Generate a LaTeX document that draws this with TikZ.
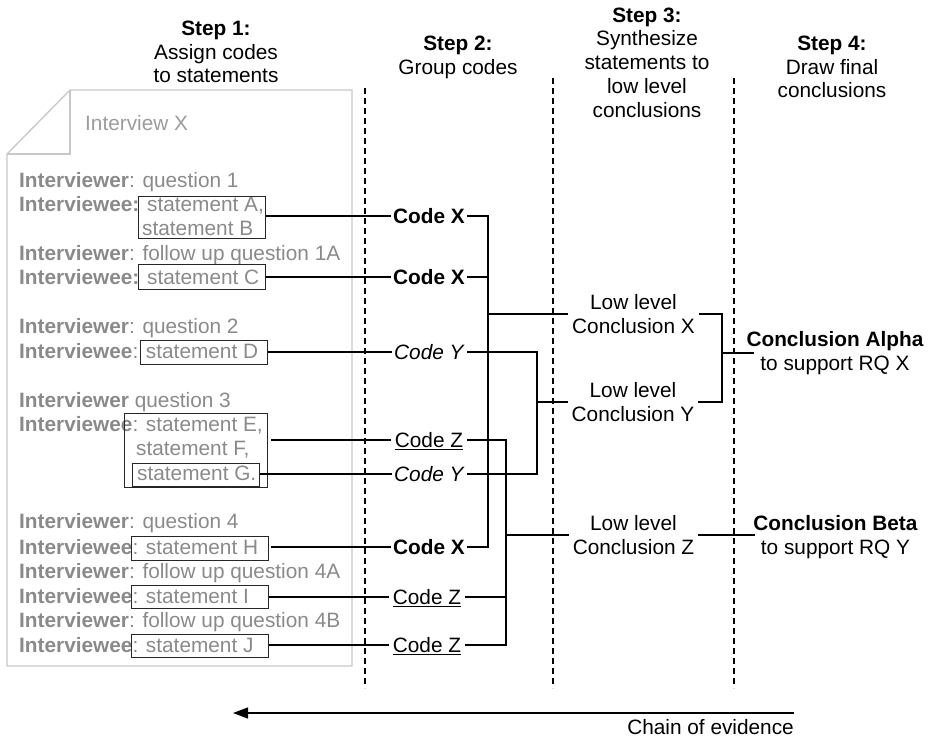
\documentclass[tikz,border=0pt]{standalone}
\usepackage{fontspec}
\setmainfont{Liberation Sans}
\usetikzlibrary{arrows.meta}
\definecolor{txtgray}{HTML}{8A8A8A}
\definecolor{lightgray}{HTML}{9C9C9C}
\definecolor{papergray}{HTML}{C8C8C8}
\begin{document}
\begin{tikzpicture}[x=1pt,y=-1pt,
  every node/.style={font=\fontsize{20.8}{24.3}\selectfont, inner sep=0pt},
  iv/.style={anchor=base west, text=txtgray},
  sbox/.style={draw=black!85, line width=1pt, anchor=north west},
  code/.style={inner xsep=2pt, text height=14.9pt, text depth=0pt},
  codez/.style={inner xsep=4pt, text height=14.9pt, text depth=0pt},
  conc/.style={align=center, inner xsep=4pt},
  hdr/.style={align=center, anchor=north, font=\fontsize{20.8}{23.8}\selectfont},
  conn/.style={line width=1.2pt, black},
  divider/.style={line width=1.1pt, dash pattern=on 6pt off 4pt},
  paper/.style={draw=papergray, line width=1.3pt, line join=miter}
]
\useasboundingbox (0,0) rectangle (931,737);

% headers
\node[hdr] (h1) at (216,20.6) {\textbf{Step 1:}\\Assign codes\\to statements};
\node[hdr] (h2) at (458,35.6) {\textbf{Step 2:}\\Group codes};
\node[hdr] (h3) at (647,7.3) {\textbf{Step 3:}\\Synthesize\\statements to\\low level\\conclusions};
\node[hdr] (h4) at (832,35.6) {\textbf{Step 4:}\\Draw final\\conclusions};

% dividers
\draw[divider] (365,88) -- (365,688);
\draw[divider] (553,78) -- (553,688);
\draw[divider] (734,78) -- (734,688);

% paper
\draw[paper] (70,90) -- (352,90) -- (352,666) -- (7,666) -- (7,154) -- cycle;
\draw[paper] (70,90) -- (70,154) -- (7,154);
\node[anchor=base west, text=lightgray] (ivx) at (85,130) {Interview X};

% interview text
\node[iv] (r1) at (19,187.3) {\textbf{Interviewer}: question 1};
\node[iv] (r2) at (19,211.3) {\textbf{Interviewee:} statement A,};
\node[iv] (r3) at (142,235.3) {statement B};
\node[iv] (r4) at (19,260.3) {\textbf{Interviewer}: follow up question 1A};
\node[iv] (r5) at (19,284.3) {\textbf{Interviewee:} statement C};
\node[iv] (r6) at (19,333.3) {\textbf{Interviewer}: question 2};
\node[iv] (r7) at (19,358.3) {\textbf{Interviewee}: statement D};
\node[iv] (r8) at (19,407.3) {\textbf{Interviewer} question 3};
\node[iv] (r9) at (19,431.3) {\textbf{Interviewee}: statement E,};
\node[iv] (r10) at (136,455.3) {statement F,};
\node[iv] (r11) at (137,480.3) {statement G.};
\node[iv] (r12) at (19,528.3) {\textbf{Interviewer}: question 4};
\node[iv] (r13) at (19,554.3) {\textbf{Interviewee}: statement H};
\node[iv] (r14) at (19,578.3) {\textbf{Interviewer}: follow up question 4A};
\node[iv] (r15) at (19,603.3) {\textbf{Interviewee}: statement I};
\node[iv] (r16) at (19,627.3) {\textbf{Interviewer}: follow up question 4B};
\node[iv] (r17) at (19,652.3) {\textbf{Interviewee}: statement J};

% statement boxes
\node[sbox, minimum width=127pt, minimum height=42pt] (sAB) at (138,196) {};
\node[sbox, minimum width=127pt, minimum height=25pt] (sC) at (138,264) {};
\node[sbox, minimum width=127pt, minimum height=24pt] (sD) at (140,340) {};
\node[sbox, minimum width=143pt, minimum height=74pt] (sEFG) at (124,413) {};
\node[sbox, minimum width=127pt, minimum height=23pt] (sG) at (132,463) {};
\node[sbox, minimum width=137pt, minimum height=24pt] (sH) at (131,536) {};
\node[sbox, minimum width=137pt, minimum height=23pt] (sI) at (131,585) {};
\node[sbox, minimum width=137pt, minimum height=23pt] (sJ) at (131,634) {};

% codes
\node[code] (cx1) at (429,216) {\textbf{Code X}};
\node[code] (cx2) at (429,277) {\textbf{Code X}};
\node[code] (cy1) at (429.5,352) {\textit{Code Y}};
\node[codez] (cz1) at (429,440) {\underline{Code Z}};
\node[code] (cy2) at (429.5,474) {\textit{Code Y}};
\node[code] (cx3) at (429,547) {\textbf{Code X}};
\node[codez] (cz2) at (427,597) {\underline{Code Z}};
\node[codez] (cz3) at (427,645) {\underline{Code Z}};

% statement -> code
\draw[conn] (sAB.east |- cx1.west) -- (cx1.west);
\draw[conn] (sC.east |- cx2.west) -- (cx2.west);
\draw[conn] (sD.east |- cy1.west) -- (cy1.west);
\draw[conn] ([xshift=3pt]sEFG.east |- cz1.west) -- (cz1.west);
\draw[conn] (sG.east |- cy2.west) -- (cy2.west);
\draw[conn] ([xshift=2pt]sH.east |- cx3.west) -- (cx3.west);
\draw[conn] (sI.east |- cz2.west) -- (cz2.west);
\draw[conn] (sJ.east |- cz3.west) -- (cz3.west);

% low level conclusions
\node[conc] (lx) at (633.5,314) {Low level\\Conclusion X};
\node[conc] (ly) at (633,402) {Low level\\Conclusion Y};
\node[conc] (lz) at (633.5,535) {Low level\\Conclusion Z};

% buses
\coordinate (bx) at (488,0);
\coordinate (by) at (537,0);
\coordinate (bz) at (506,0);
\coordinate (br) at (722,0);

\draw[conn] (cx1.east) -- (cx1.east -| bx) -- (cx3.east -| bx) -- (cx3.east);
\draw[conn] (cx2.east) -- (cx2.east -| bx);
\draw[conn] (lx.west -| bx) -- (lx.west);

\draw[conn] (cy1.east) -- (cy1.east -| by) -- (cy2.east -| by) -- (cy2.east);
\draw[conn] (ly.west -| by) -- (ly.west);

\draw[conn] (cz1.east) -- (cz1.east -| bz) -- (cz3.east -| bz) -- (cz3.east);
\draw[conn] (cz2.east) -- (cz2.east -| bz);
\draw[conn] (lz.west -| bz) -- (lz.west);

% final conclusions
\node[conc, inner xsep=0pt] (alpha) at (835,353) {\textbf{Conclusion Alpha}\\to support RQ X};
\node[conc, inner xsep=0pt] (beta) at (835.5,537) {\textbf{Conclusion Beta}\\to support RQ Y};

\draw[conn] (lx.east) -- (lx.east -| br) -- (ly.east -| br) -- (ly.east);
\draw[conn] (alpha.west -| br) -- ([xshift=8pt]alpha.west);
\draw[conn] (lz.east) -- ([xshift=2pt]beta.west |- lz.east);

% chain of evidence
\node[anchor=base east] (chain) at (794,734) {Chain of evidence};
\coordinate (evS) at (794,713);
\coordinate (evE) at (233,713);
\draw[line width=1.3pt, -{Triangle[length=15pt,width=11pt]}] (evS) -- (evE);
\end{tikzpicture}
\end{document}
